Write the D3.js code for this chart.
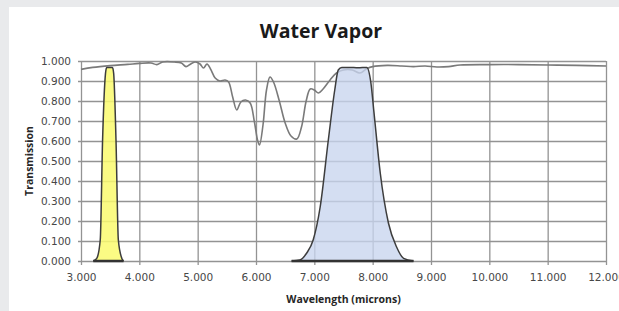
<!DOCTYPE html>
<html>
<head>
<meta charset="utf-8">
<script src="https://d3js.org/d3.v7.min.js"></script>
<style>
  body { margin: 0; background: #e9eaec; }
  #chart { width: 619px; height: 311px; overflow: hidden; }
  .tick text { font-family: "DejaVu Sans", sans-serif; font-size: 10.5px; fill: #474747; }
</style>
</head>
<body>
<div id="chart"></div>
<script>
// water vapor transmission curve
const wavelength = [3.00, 3.20, 3.50, 3.80, 4.00, 4.20, 4.30, 4.40, 4.60, 4.72, 4.80, 4.88, 4.96, 5.04, 5.10,
    5.16, 5.22, 5.30, 5.38, 5.47, 5.53, 5.60, 5.67, 5.74, 5.82, 5.90, 5.97, 6.03, 6.06, 6.12, 6.18, 6.24,
    6.30, 6.40, 6.50, 6.60, 6.70, 6.78, 6.86, 6.93, 7.00, 7.07, 7.15, 7.27, 7.38, 7.50, 7.65, 7.78, 7.90,
    8.00, 8.25, 8.50, 8.70, 8.90, 9.10, 9.30, 9.50, 10.0, 10.5, 11.0, 11.5, 12.0];
const transmission = [0.958, 0.968, 0.977, 0.983, 0.988, 0.990, 0.982, 0.995, 0.995, 0.990, 0.972, 0.985, 0.995, 0.985, 0.965,
    0.985, 0.960, 0.915, 0.900, 0.905, 0.895, 0.820, 0.755, 0.795, 0.805, 0.790, 0.700, 0.600, 0.580, 0.680, 0.855, 0.920,
    0.895, 0.800, 0.690, 0.625, 0.610, 0.670, 0.800, 0.860, 0.855, 0.840, 0.860, 0.905, 0.940, 0.955, 0.955, 0.940, 0.962,
    0.972, 0.978, 0.975, 0.972, 0.975, 0.970, 0.972, 0.980, 0.982, 0.982, 0.980, 0.978, 0.975];

// yellow filter band
const band1Wl = [3.21, 3.27, 3.33, 3.37, 3.42, 3.44, 3.54, 3.56, 3.60, 3.64, 3.70, 3.73];
const band1T  = [0, 0.013, 0.105, 0.605, 0.938, 0.967, 0.967, 0.938, 0.605, 0.105, 0.013, 0];

// blue filter band
const band2Wl = [6.61, 6.75, 6.87, 6.98, 7.10, 7.24, 7.35, 7.41, 7.47, 7.60, 7.75, 7.90, 7.97, 8.02, 8.13, 8.27, 8.41, 8.53, 8.70];
const band2T  = [0, 0.005, 0.04, 0.105, 0.27, 0.605, 0.855, 0.955, 0.968, 0.968, 0.966, 0.968, 0.89, 0.75, 0.44, 0.19, 0.07, 0.013, 0];

const xTicks = [3, 4, 5, 6, 7, 8, 9, 10, 11, 12];
const yTicks = [0, 0.1, 0.2, 0.3, 0.4, 0.5, 0.6, 0.7, 0.8, 0.9, 1.0];

function WaterVaporChart(parentElement) {
    let vis = this;
    vis.parentElement = parentElement;
    vis.initVis();
}

WaterVaporChart.prototype.initVis = function() {
    let vis = this;

    vis.margin = {top: 61, right: 13, bottom: 50, left: 81};
    vis.width = 619 - vis.margin.left - vis.margin.right;
    vis.height = 311 - vis.margin.top - vis.margin.bottom;

    vis.root = d3.select("#" + vis.parentElement).append("svg")
        .attr("width", 619)
        .attr("height", 311);

    // white chart panel on the grey page
    vis.root.append("rect")
        .attr("x", 9).attr("y", 7)
        .attr("width", 619).attr("height", 311)
        .attr("fill", "#ffffff");

    vis.root.append("text")
        .attr("x", 321).attr("y", 38)
        .attr("text-anchor", "middle")
        .attr("font-family", "'Open Sans', sans-serif")
        .attr("font-weight", "bold")
        .attr("font-size", 19.5)
        .attr("fill", "#1a1a1a")
        .text("Water Vapor");

    vis.svg = vis.root.append("g")
        .attr("transform", "translate(" + vis.margin.left + "," + vis.margin.top + ")");

    vis.x = d3.scaleLinear().domain([3, 12]).range([0, vis.width]);
    vis.y = d3.scaleLinear().domain([0, 1]).range([vis.height, 0]);

    // axes with gridlines
    vis.svg.append("g")
        .attr("class", "axis x-axis")
        .attr("transform", "translate(0," + vis.height + ")")
        .call(d3.axisBottom(vis.x).tickValues(xTicks).tickFormat(d3.format(".3f"))
            .tickSizeInner(-vis.height - 4).tickSizeOuter(0).tickPadding(13))
        .call(g => g.selectAll(".tick line").attr("transform", "translate(0,4)"));

    vis.svg.append("g")
        .attr("class", "axis y-axis")
        .call(d3.axisLeft(vis.y).tickValues(yTicks).tickFormat(d3.format(".3f"))
            .tickSizeInner(-vis.width - 3).tickSizeOuter(0).tickPadding(10))
        .call(g => g.selectAll(".tick line").attr("transform", "translate(-3,0)"));

    vis.svg.selectAll(".axis .domain").remove();
    vis.svg.selectAll(".axis .tick line")
        .attr("stroke", "#939393")
        .attr("stroke-width", 1.3);

    vis.root.append("text")
        .attr("x", vis.margin.left + vis.width / 2).attr("y", 303)
        .attr("text-anchor", "middle")
        .attr("font-family", "'Open Sans', sans-serif")
        .attr("font-weight", "bold")
        .attr("font-size", 10.5)
        .attr("fill", "#262626")
        .text("Wavelength (microns)");

    vis.root.append("text")
        .attr("transform", "translate(33," + (vis.margin.top + vis.height / 2) + ") rotate(-90)")
        .attr("text-anchor", "middle")
        .attr("font-family", "'Open Sans', sans-serif")
        .attr("font-weight", "bold")
        .attr("font-size", 10.5)
        .attr("fill", "#262626")
        .text("Transmission");
}

WaterVaporChart.prototype.updateVis = function() {
    let vis = this;

    let line = d3.line()
        .x(d => vis.x(d[0]))
        .y(d => vis.y(d[1]))
        .curve(d3.curveCatmullRom.alpha(0.5));

    let area = d3.area()
        .x(d => vis.x(d[0]))
        .y0(vis.y(0))
        .y1(d => vis.y(d[1]))
        .curve(d3.curveMonotoneX);

    let bandLine = d3.line()
        .x(d => vis.x(d[0]))
        .y(d => vis.y(d[1]))
        .curve(d3.curveMonotoneX);

    vis.svg.append("path")
        .datum(d3.zip(wavelength, transmission))
        .attr("fill", "none")
        .attr("stroke", "#7a7a7a")
        .attr("stroke-width", 1.6)
        .attr("d", line);

    let bands = [
        {pts: d3.zip(band1Wl, band1T), fill: "#fafa6e", opacity: 0.85},
        {pts: d3.zip(band2Wl, band2T), fill: "#c8d5ee", opacity: 0.78}
    ];

    bands.forEach(b => {
        vis.svg.append("path")
            .datum(b.pts)
            .attr("fill", b.fill)
            .attr("fill-opacity", b.opacity)
            .attr("d", area);
        vis.svg.append("path")
            .datum(b.pts)
            .attr("fill", "none")
            .attr("stroke", "#3d3d3d")
            .attr("stroke-width", 1.5)
            .attr("d", bandLine);
        // thick base of the band
        vis.svg.append("line")
            .attr("x1", vis.x(b.pts[0][0])).attr("x2", vis.x(b.pts[b.pts.length - 1][0]))
            .attr("y1", vis.y(0)).attr("y2", vis.y(0))
            .attr("stroke", "#333333")
            .attr("stroke-width", 2.5);
    });
}

let chart = new WaterVaporChart("chart");
chart.updateVis();
</script>
</body>
</html>
